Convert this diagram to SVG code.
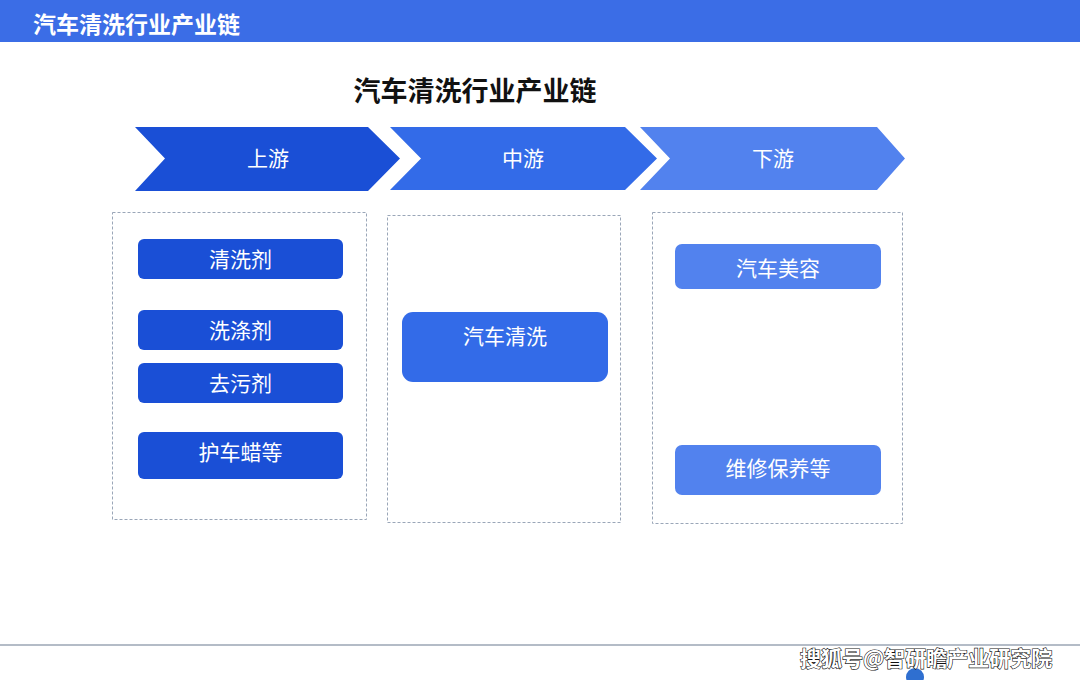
<svg xmlns="http://www.w3.org/2000/svg" width="1080" height="680" viewBox="0 0 1080 680">
<style>
.cjk{font-family:"Noto Sans CJK SC","Noto Sans",sans-serif}
.lbl{font-family:"Noto Sans CJK SC","Noto Sans",sans-serif;font-size:21px;fill:#ffffff;text-anchor:middle;dominant-baseline:central}
.dash{fill:none;stroke:#9aa6b8;stroke-width:1;stroke-dasharray:3 2}
.c1{fill:#1a4fd6}
.c2{fill:#336be8}
.c3{fill:#5282ee}
</style>
<rect x="0" y="0" width="1080" height="680" fill="#ffffff"/>
<rect x="0" y="0" width="1080" height="42" fill="#3b6de6"/>
<text class="cjk" x="33" y="23" font-size="23" font-weight="bold" fill="#ffffff" dominant-baseline="central">汽车清洗行业产业链</text>
<text class="cjk" x="475" y="89" font-size="27" font-weight="bold" fill="#111111" text-anchor="middle" dominant-baseline="central">汽车清洗行业产业链</text>

<g id="stage-upstream">
<polygon class="c1" points="135,127 368,127 400,158.5 368,191 135,191 165,158.5"/>
<text class="lbl" x="268" y="157">上游</text>
</g>
<g id="stage-midstream">
<polygon class="c2" points="390,127 625,127 657,158.5 625,190 390,190 421,158.5"/>
<text class="lbl" x="523" y="157">中游</text>
</g>
<g id="stage-downstream">
<polygon class="c3" points="640,127 877,127 905,158.5 877,190 640,190 670,158.5"/>
<text class="lbl" x="773" y="157">下游</text>
</g>

<g id="panel-upstream"><rect class="dash" x="112.5" y="212.5" width="254" height="307"/></g>
<g id="panel-midstream"><rect class="dash" x="387.5" y="215.5" width="233" height="307"/></g>
<g id="panel-downstream"><rect class="dash" x="652.5" y="212.5" width="250" height="311"/></g>

<g id="node-qingxiji"><rect class="c1" x="138" y="239" width="205" height="40" rx="6"/><text class="lbl" x="240.5" y="258">清洗剂</text></g>
<g id="node-xidiji"><rect class="c1" x="138" y="310" width="205" height="40" rx="6"/><text class="lbl" x="240.5" y="329">洗涤剂</text></g>
<g id="node-quwuji"><rect class="c1" x="138" y="363" width="205" height="40" rx="6"/><text class="lbl" x="240.5" y="382">去污剂</text></g>
<g id="node-huchela"><rect class="c1" x="138" y="432" width="205" height="47" rx="6"/><text class="lbl" x="240.5" y="451">护车蜡等</text></g>

<g id="node-qichequingxi"><rect class="c2" x="402" y="312" width="206" height="70" rx="11"/><text class="lbl" x="505" y="335" font-size="22">汽车清洗</text></g>

<g id="node-meirong"><rect class="c3" x="675" y="244" width="206" height="45" rx="7"/><text class="lbl" x="778" y="267">汽车美容</text></g>
<g id="node-weixiu"><rect class="c3" x="675" y="445" width="206" height="50" rx="7"/><text class="lbl" x="778" y="467">维修保养等</text></g>

<g id="connectors"></g>

<line x1="0" y1="645" x2="1080" y2="645" stroke="#6b7a90" stroke-width="1.2"/>
<circle cx="915" cy="677" r="9" fill="#2f6fd0"/>
<text class="cjk" x="800" y="657" font-size="21" font-weight="bold" fill="#ffffff" stroke="#111111" stroke-width="1.2" paint-order="stroke" dominant-baseline="central">搜狐号@智研瞻产业研究院</text>
</svg>
